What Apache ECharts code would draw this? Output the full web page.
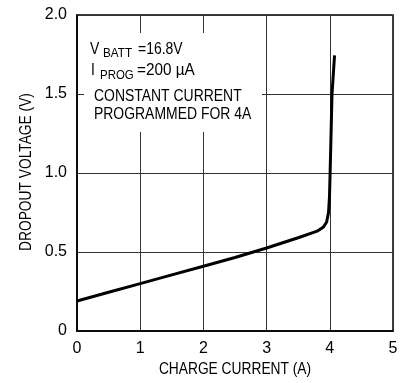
<!DOCTYPE html>
<html><head><meta charset="utf-8">
<script src="https://cdn.jsdelivr.net/npm/echarts@6/dist/echarts.min.js"></script>
<style>html,body{margin:0;padding:0;background:#fff}#c{width:403px;height:383px}</style>
</head><body><div id="c"></div>
<script>
var FONT = '"Liberation Sans Narrow","Arial Narrow","Liberation Sans",sans-serif';
var xTicks = ['0','1','2','3','4','5'];
var yTicks = ['0','0.5','1.0','1.5','2.0'];
var current = [0, 0.5, 1, 1.5, 2, 2.5, 3, 3.5, 3.8, 3.9, 3.95, 3.98, 3.995, 4.005, 4.02, 4.035, 4.075];
var dropout = [0.19, 0.245, 0.30, 0.355, 0.41, 0.465, 0.525, 0.59, 0.632, 0.658, 0.69, 0.75, 0.85, 1.0, 1.25, 1.5, 1.745];
var xTitle = 'CHARGE CURRENT (A)';
var yTitle = 'DROPOUT VOLTAGE (V)';
var notes = [
  {main:'V', sub:'BATT', rest:'=16.8V'},
  {main:'I', sub:'PROG', rest:'=200 µA'}
];
var notes2 = ['CONSTANT CURRENT', 'PROGRAMMED FOR 4A'];

var chart = echarts.init(document.getElementById('c'));
var data = current.map(function(x,i){return [x, dropout[i]];});
function txt(x,y,t,size,sx,opts){
  opts = opts || {};
  return {type:'text', x:x, y:y, z:100, scaleX:sx, rotation:opts.rot||0,
    style:{text:t, font:size+'px '+FONT, fill:'#000', verticalAlign:'middle', align:opts.align||'left'}};
}
var N = 0.82;
chart.setOption({
  animation:false,
  backgroundColor:'#fff',
  grid:{left:77, top:15, right:10, bottom:52, show:true, borderColor:'#000', borderWidth:1.5},
  xAxis:{type:'value', min:0, max:5, interval:1,
    axisLine:{lineStyle:{color:'#000', width:1.5}}, axisTick:{show:false},
    axisLabel:{margin:10, fontFamily:FONT, fontSize:16, color:'#000', formatter:function(v){return xTicks[Math.round(v)];}},
    splitLine:{show:true, lineStyle:{color:'#333', width:1}}},
  yAxis:{type:'value', min:0, max:2, interval:0.5,
    axisLine:{lineStyle:{color:'#000', width:1.5}}, axisTick:{show:false},
    axisLabel:{margin:10, fontFamily:FONT, fontSize:16, color:'#000', formatter:function(v){return yTicks[Math.round(v*2)];}},
    splitLine:{show:true, lineStyle:{color:'#333', width:1}}},
  series:[{type:'line', data:data, showSymbol:false, smooth:false,
    lineStyle:{color:'#000', width:3}, z:3}],
  graphic:[
    {type:'rect', shape:{x:84, y:33, width:178, height:99}, style:{fill:'#fff'}, z:50},
    txt(90, 49, notes[0].main, 17, N), txt(103, 53, notes[0].sub, 13, 0.9), txt(138, 49, notes[0].rest, 17, N),
    txt(91, 70, notes[1].main, 17, N), txt(100, 75, notes[1].sub, 13, 0.88), txt(137, 70, notes[1].rest, 17, 0.9),
    txt(94, 96, notes2[0], 17, N), txt(94, 114, notes2[1], 17, N),
    txt(235, 369, xTitle, 17, 0.81, {align:'center'}),
    txt(26.5, 172, yTitle, 17, 0.81, {align:'center', rot:Math.PI/2})
  ]
});
</script></body></html>
